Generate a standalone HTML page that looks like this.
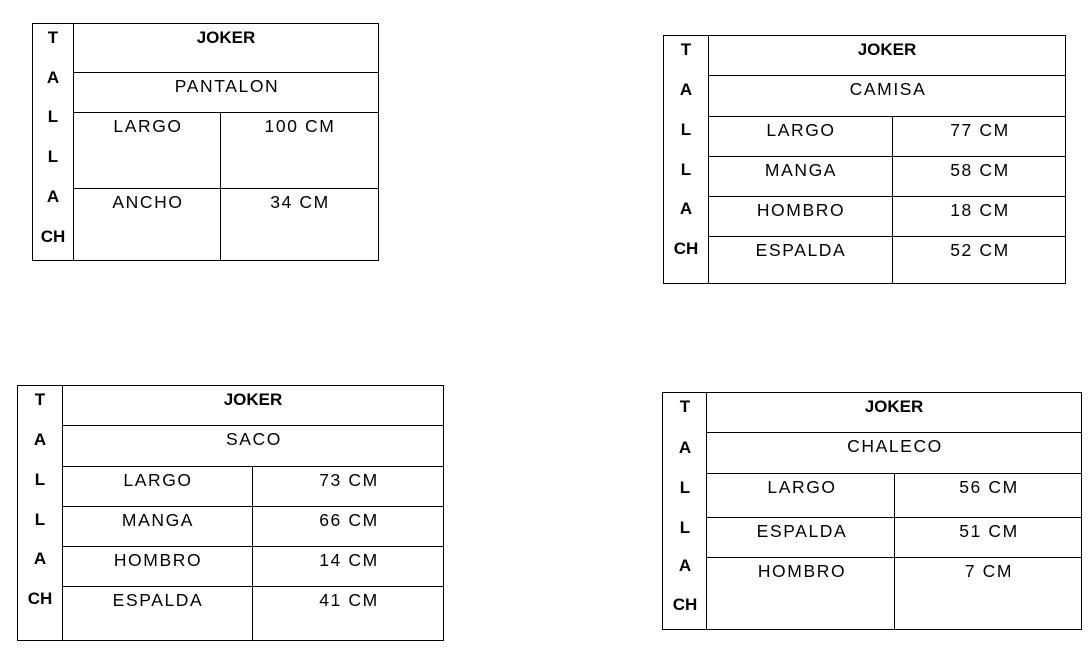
<!DOCTYPE html>
<html><head><meta charset="utf-8"><style>
html,body{margin:0;padding:0;background:#fff;width:1091px;height:651px;overflow:hidden}
svg text{font-family:"Liberation Sans",sans-serif;font-size:17.5px;fill:#000;text-anchor:middle;letter-spacing:1.6px}
svg text.b{font-weight:bold;font-size:17px;letter-spacing:0}
</style></head><body>
<svg width="1091" height="651" xmlns="http://www.w3.org/2000/svg">
<g stroke="#000" stroke-width="1" fill="none" shape-rendering="crispEdges">
<rect x="32.5" y="23.5" width="346" height="237"/>
<line x1="73.5" y1="23" x2="73.5" y2="260"/>
<line x1="73" y1="72.5" x2="378" y2="72.5"/>
<line x1="73" y1="112.5" x2="378" y2="112.5"/>
<line x1="73" y1="188.5" x2="378" y2="188.5"/>
<line x1="220.5" y1="112" x2="220.5" y2="260"/>
<rect x="663.5" y="35.5" width="402" height="248"/>
<line x1="708.5" y1="35" x2="708.5" y2="283"/>
<line x1="708" y1="75.5" x2="1065" y2="75.5"/>
<line x1="708" y1="116.5" x2="1065" y2="116.5"/>
<line x1="708" y1="156.5" x2="1065" y2="156.5"/>
<line x1="708" y1="196.5" x2="1065" y2="196.5"/>
<line x1="708" y1="236.5" x2="1065" y2="236.5"/>
<line x1="892.5" y1="116" x2="892.5" y2="283"/>
<rect x="17.5" y="385.5" width="426" height="255"/>
<line x1="62.5" y1="385" x2="62.5" y2="640"/>
<line x1="62" y1="425.5" x2="443" y2="425.5"/>
<line x1="62" y1="466.5" x2="443" y2="466.5"/>
<line x1="62" y1="506.5" x2="443" y2="506.5"/>
<line x1="62" y1="546.5" x2="443" y2="546.5"/>
<line x1="62" y1="586.5" x2="443" y2="586.5"/>
<line x1="252.5" y1="466" x2="252.5" y2="640"/>
<rect x="662.5" y="392.5" width="419" height="237"/>
<line x1="706.5" y1="392" x2="706.5" y2="629"/>
<line x1="706" y1="432.5" x2="1081" y2="432.5"/>
<line x1="706" y1="473.5" x2="1081" y2="473.5"/>
<line x1="706" y1="517.5" x2="1081" y2="517.5"/>
<line x1="706" y1="557.5" x2="1081" y2="557.5"/>
<line x1="894.5" y1="473" x2="894.5" y2="629"/>
</g>
<g>
<text class="b" x="53" y="43">T</text><text class="b" x="53" y="83">A</text><text class="b" x="53" y="122">L</text><text class="b" x="53" y="162">L</text><text class="b" x="53" y="202">A</text><text class="b" x="53" y="242">CH</text>
<text class="b" x="226" y="43">JOKER</text>
<text x="227" y="92">PANTALON</text>
<text x="148" y="132">LARGO</text><text x="300" y="132">100 CM</text>
<text x="148" y="208">ANCHO</text><text x="300" y="208">34 CM</text>
</g>
<g>
<text class="b" x="686" y="55">T</text><text class="b" x="686" y="95">A</text><text class="b" x="686" y="135">L</text><text class="b" x="686" y="175">L</text><text class="b" x="686" y="214">A</text><text class="b" x="686" y="254">CH</text>
<text class="b" x="887" y="55">JOKER</text>
<text x="888" y="95">CAMISA</text>
<text x="801" y="136">LARGO</text><text x="980" y="136">77 CM</text>
<text x="801" y="176">MANGA</text><text x="980" y="176">58 CM</text>
<text x="801" y="216">HOMBRO</text><text x="980" y="216">18 CM</text>
<text x="801" y="256">ESPALDA</text><text x="980" y="256">52 CM</text>
</g>
<g>
<text class="b" x="40" y="405">T</text><text class="b" x="40" y="445">A</text><text class="b" x="40" y="485">L</text><text class="b" x="40" y="525">L</text><text class="b" x="40" y="564">A</text><text class="b" x="40" y="604">CH</text>
<text class="b" x="253" y="405">JOKER</text>
<text x="254" y="445">SACO</text>
<text x="158" y="486">LARGO</text><text x="349" y="486">73 CM</text>
<text x="158" y="526">MANGA</text><text x="349" y="526">66 CM</text>
<text x="158" y="566">HOMBRO</text><text x="349" y="566">14 CM</text>
<text x="158" y="606">ESPALDA</text><text x="349" y="606">41 CM</text>
</g>
<g>
<text class="b" x="685" y="412">T</text><text class="b" x="685" y="453">A</text><text class="b" x="685" y="493">L</text><text class="b" x="685" y="533">L</text><text class="b" x="685" y="571">A</text><text class="b" x="685" y="610">CH</text>
<text class="b" x="894" y="412">JOKER</text>
<text x="895" y="452">CHALECO</text>
<text x="802" y="493">LARGO</text><text x="989" y="493">56 CM</text>
<text x="802" y="537">ESPALDA</text><text x="989" y="537">51 CM</text>
<text x="802" y="577">HOMBRO</text><text x="989" y="577">7 CM</text>
</g>
</svg>
</body></html>
